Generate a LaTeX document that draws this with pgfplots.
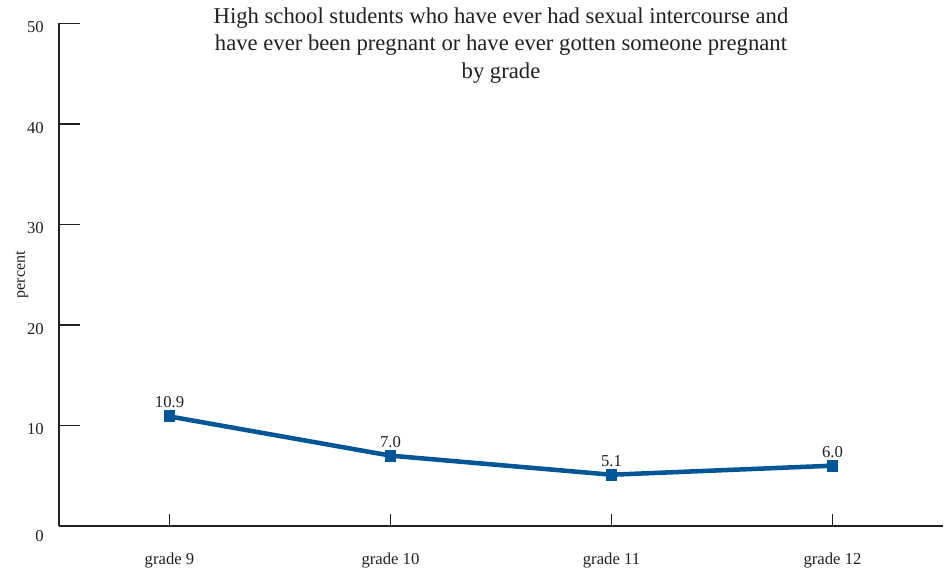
\documentclass[border=0pt]{standalone}
\usepackage{pgfplots}
\pgfplotsset{compat=1.18}
\usepackage{fontspec}
\setmainfont{Liberation Serif}
\definecolor{linec}{RGB}{0,86,150}
\definecolor{axc}{RGB}{35,31,32}
\begin{document}
\begin{tikzpicture}
\begin{axis}[
  name=ax,
  scale only axis,
  width=663pt, height=376.9pt,
  xmin=-0.5, xmax=3.5, ymin=0, ymax=50,
  axis x line=bottom, axis y line=left,
  axis line style={-, line width=0.9pt, color=axc},
  every tick/.style={line width=0.9pt, color=axc},
  tick align=inside,
  major tick length=15.75pt,
  xtick style={/pgfplots/major tick length=9pt},
  xtick={0,1,2,3},
  xticklabels={grade 9, grade 10, grade 11, grade 12},
  ytick={10,20,30,40,50},
  extra y ticks={0},
  extra y tick style={yticklabel style={yshift=-4.8pt}},
  /pgf/number format/assume math mode=true,
  xticklabel style={font=\fontsize{12.5}{14}\selectfont, anchor=base, inner sep=0pt, yshift=-29.25pt, text=axc},
  yticklabel style={font=\fontsize{12.5}{14}\selectfont, anchor=base east, inner sep=0pt, xshift=-11.25pt, yshift=-7pt, text=axc},
  ylabel={percent},
  ylabel style={at={(axis description cs:-0.0385,0.5)}, anchor=base, rotate=0, font=\fontsize{12}{14}\selectfont, inner sep=0pt, text=axc},
  clip=false,
  nodes near coords,
  point meta=explicit symbolic,
  every node near coord/.append style={font=\fontsize{12.5}{14}\selectfont, anchor=base, inner sep=0pt, yshift=6.4pt, text=axc},
]
\addplot[color=linec, line width=3.4pt, mark=square*, mark size=4.1pt, mark options={line width=0pt, fill=linec}]
  coordinates {(0,10.9) [10.9] (1,7.0) [7.0] (2,5.1) [5.1] (3,6.0) [6.0]};
\node[anchor=base, inner sep=0pt, font=\fontsize{17}{21}\selectfont, text=axc] at (rel axis cs:0.5,1) {High school students who have ever had sexual intercourse and};
\node[anchor=base, inner sep=0pt, font=\fontsize{17}{21}\selectfont, text=axc] at ([yshift=-20.6pt]rel axis cs:0.5,1) {have ever been pregnant or have ever gotten someone pregnant};
\node[anchor=base, inner sep=0pt, font=\fontsize{17}{21}\selectfont, text=axc] at ([yshift=-41.6pt]rel axis cs:0.5,1) {by grade};
\end{axis}
\pgfresetboundingbox
\path ([xshift=-44.25pt,yshift=-35.25pt]ax.south west) rectangle ([xshift=666.75pt,yshift=394.5pt]ax.south west);
\end{tikzpicture}
\end{document}
